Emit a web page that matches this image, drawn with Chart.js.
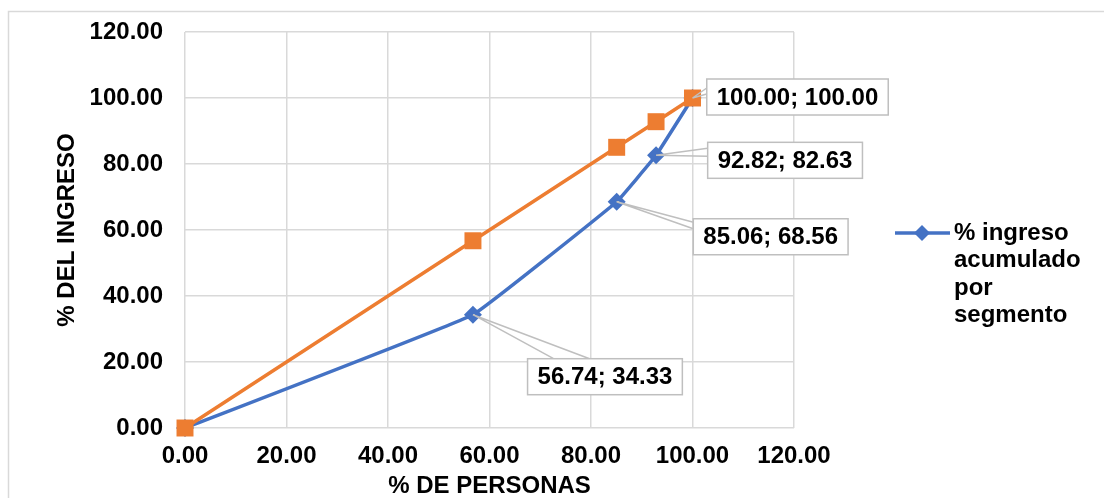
<!DOCTYPE html>
<html>
<head>
<meta charset="utf-8">
<script src="https://cdn.jsdelivr.net/npm/chart.js@4.4.1/dist/chart.umd.min.js"></script>
<style>
  body { margin: 0; background: #fff; }
  #wrap { position: relative; width: 1104px; height: 498px; }
</style>
</head>
<body>
<div id="wrap"><canvas id="lorenzChart"></canvas></div>
<script>
// % de personas vs % del ingreso acumulado
const personas = [0, 56.74, 85.06, 92.82, 100];
const ingreso = [0, 34.33, 68.56, 82.63, 100];
const igualdad = [0, 56.74, 85.06, 92.82, 100];
const legendLines = ['% ingreso', 'acumulado', 'por', 'segmento'];

// where each value box sits relative to its point, and where the leader lines meet the box
const labelBoxes = [
    null,
    { dx: 132, dy: 62, attach: [[26, 0], [62, 0]] },
    { dx: 154, dy: 35, attach: [[2, 4], [0, 10]] },
    { dx: 129, dy: 5, attach: [[0, 6], [0, 14]] },
    { dx: 105, dy: -1, attach: [[0, 9], [0, 15]] }
];

const BLUE = '#4472C4';
const ORANGE = '#ED7D31';
const FONT = '"Liberation Sans", Arial, sans-serif';

const fmt = v => Number(v).toFixed(2);

const frame = {
    id: 'frame',
    beforeDraw(chart) {
        const ctx = chart.ctx;
        ctx.save();
        ctx.strokeStyle = '#d9d9d9';
        ctx.lineWidth = 1.5;
        ctx.beginPath();
        ctx.moveTo(8.5, 510);
        ctx.lineTo(8.5, 11.5);
        ctx.lineTo(1110, 11.5);
        ctx.stroke();
        ctx.restore();
    }
};

const valueLabels = {
    id: 'valueLabels',
    afterDatasetsDraw(chart) {
        const ctx = chart.ctx;
        const meta = chart.getDatasetMeta(1);
        ctx.save();
        ctx.font = 'bold 24px ' + FONT;
        ctx.textAlign = 'center';
        ctx.textBaseline = 'middle';
        meta.data.forEach((pt, i) => {
            const box = labelBoxes[i];
            if (!box) return;
            const text = fmt(personas[i]) + '; ' + fmt(ingreso[i]);
            const w = ctx.measureText(text).width + 20;
            const h = 36;
            const cx = pt.x + box.dx;
            const cy = pt.y + box.dy;
            const bx = cx - w / 2;
            const by = cy - h / 2;

            ctx.strokeStyle = '#bfbfbf';
            ctx.lineWidth = 1.5;
            ctx.beginPath();
            box.attach.forEach(a => {
                ctx.moveTo(pt.x, pt.y);
                ctx.lineTo(bx + a[0], by + a[1]);
            });
            ctx.stroke();

            ctx.fillStyle = '#fff';
            ctx.fillRect(bx, by, w, h);
            ctx.strokeRect(bx, by, w, h);
            ctx.fillStyle = '#000';
            ctx.fillText(text, cx, cy + 1);
        });
        ctx.restore();
    }
};

const sideLegend = {
    id: 'sideLegend',
    afterDraw(chart) {
        const ctx = chart.ctx;
        ctx.save();
        ctx.strokeStyle = BLUE;
        ctx.lineWidth = 3.5;
        ctx.beginPath();
        ctx.moveTo(895, 233);
        ctx.lineTo(950, 233);
        ctx.stroke();
        ctx.fillStyle = BLUE;
        ctx.beginPath();
        ctx.moveTo(922, 225);
        ctx.lineTo(930, 233);
        ctx.lineTo(922, 241);
        ctx.lineTo(914, 233);
        ctx.closePath();
        ctx.fill();

        ctx.fillStyle = '#000';
        ctx.font = 'bold 24px ' + FONT;
        ctx.textAlign = 'left';
        ctx.textBaseline = 'middle';
        legendLines.forEach((line, i) => {
            ctx.fillText(line, 954, 233 + i * 27.5);
        });
        ctx.restore();
    }
};

const ctx = document.getElementById('lorenzChart').getContext('2d');
new Chart(ctx, {
    type: 'scatter',
    data: {
        datasets: [{
            label: 'Igualdad',
            data: personas.map((x, i) => ({ x: x, y: igualdad[i] })),
            showLine: true,
            clip: false,
            borderColor: ORANGE,
            backgroundColor: ORANGE,
            borderWidth: 3.5,
            pointStyle: 'rect',
            pointRadius: 12,
            pointHoverRadius: 12,
            pointBorderWidth: 0
        }, {
            label: '% ingreso acumulado por segmento',
            data: personas.map((x, i) => ({ x: x, y: ingreso[i] })),
            showLine: true,
            clip: false,
            borderColor: BLUE,
            backgroundColor: BLUE,
            borderWidth: 3.5,
            tension: 0.07,
            pointStyle: 'rectRot',
            pointRadius: 9,
            pointHoverRadius: 9,
            pointBorderWidth: 0
        }]
    },
    options: {
        responsive: true,
        maintainAspectRatio: false,
        animation: false,
        layout: { padding: { left: 0, top: 32, right: 310, bottom: 0 } },
        plugins: {
            legend: { display: false },
            tooltip: { enabled: false }
        },
        scales: {
            x: {
                type: 'linear',
                min: 0,
                max: 120,
                ticks: {
                    stepSize: 20,
                    padding: 14,
                    color: '#000',
                    font: { family: FONT, size: 24, weight: 'bold' },
                    callback: v => fmt(v)
                },
                grid: { color: '#d9d9d9', lineWidth: 1.5, drawTicks: false },
                border: { display: false },
                title: {
                    display: true,
                    text: '% DE PERSONAS',
                    color: '#000',
                    padding: 0,
                    font: { family: FONT, size: 24, weight: 'bold', lineHeight: 1 }
                },
                afterFit(scale) {
                    scale.height = 70;
                    scale.paddingLeft = 0;
                    scale.paddingRight = 0;
                }
            },
            y: {
                min: 0,
                max: 120,
                ticks: {
                    stepSize: 20,
                    padding: 22,
                    color: '#000',
                    font: { family: FONT, size: 24, weight: 'bold' },
                    callback: v => fmt(v)
                },
                grid: { color: '#d9d9d9', lineWidth: 1.5, drawTicks: false },
                border: { display: false },
                title: {
                    display: true,
                    text: '% DEL INGRESO',
                    color: '#000',
                    padding: { top: 55, bottom: 0 },
                    font: { family: FONT, size: 24, weight: 'bold', lineHeight: 1 }
                },
                afterFit(scale) {
                    scale.width = 185;
                    scale.paddingTop = 0;
                    scale.paddingBottom = 0;
                }
            }
        }
    },
    plugins: [frame, valueLabels, sideLegend]
});
</script>
</body>
</html>
